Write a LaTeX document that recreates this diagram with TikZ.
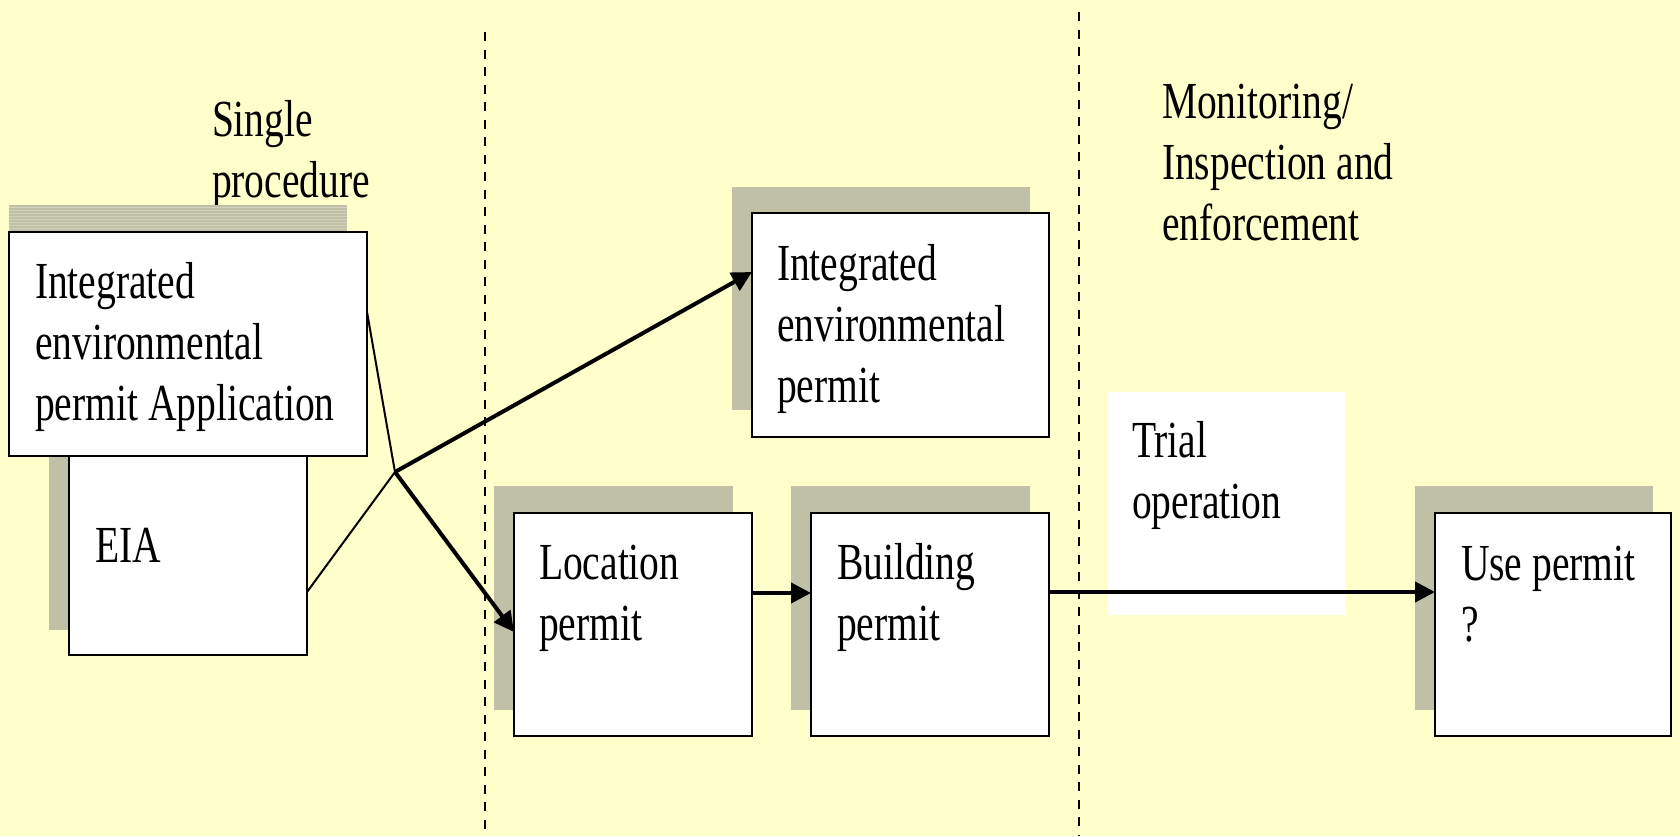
\documentclass[tikz,border=0pt]{standalone}
\usepackage{fontspec}
\setmainfont{Liberation Serif}[FakeStretch=0.76]
\usetikzlibrary{arrows.meta}
\definecolor{bgyellow}{HTML}{FFFFCC}
\definecolor{shadowgray}{HTML}{C0C0A6}
\definecolor{stripegray}{HTML}{D2D2BC}
\tikzset{
  boxnode/.style={draw=black, line width=2pt, fill=white, rectangle, inner sep=0pt, outer sep=0pt, anchor=north west},
  shadownode/.style={fill=shadowgray, draw=none, rectangle, inner sep=0pt, outer sep=0pt, anchor=north west},
  lbl/.style={anchor=base west, inner sep=0pt, outer sep=0pt, font=\fontsize{52}{61}\selectfont},
  divider/.style={line width=2.4pt, dash pattern=on 9pt off 8.5pt},
  thinline/.style={line width=2pt},
  thickarrow/.style={line width=4pt, -{Triangle[length=20pt,width=20pt]}},
}
\newcommand{\txtblock}[1]{\parbox[t]{420pt}{\raggedright #1}}
\begin{document}
\begin{tikzpicture}[x=1pt,y=-1pt]
\fill[bgyellow] (0,0) rectangle (1680,836);
\useasboundingbox (0,0) rectangle (1680,836);

% dividers
\coordinate (d1top) at (485,32);
\coordinate (d1bot) at (485,836);
\coordinate (d2top) at (1079,12);
\coordinate (d2bot) at (1079,836);
\draw[divider] (d1top) -- (d1bot);
\draw[divider] (d2top) -- (d2bot);

% headings
\node[lbl] (single) at (212,136) {\txtblock{Single\\procedure}};
\node[lbl] (monitor) at (1162,118) {\txtblock{Monitoring/\\Inspection and\\enforcement}};

% EIA
\node[shadownode, minimum width=238pt, minimum height=210pt] (eiash) at (49,420) {};
\node[boxnode, minimum width=238pt, minimum height=225pt] (eia) at (69,430) {};
\node[lbl] (eiatxt) at (95,562) {EIA};

% Application
\node[shadownode, minimum width=338pt, minimum height=225pt] (appsh) at (9,205) {};
\foreach \yy in {207,210,...,231} {\draw[stripegray, line width=0.8pt] (9,\yy) -- (347,\yy);}
\node[boxnode, minimum width=358pt, minimum height=224pt] (app) at (9,232) {};
\node[lbl] (apptxt) at (35,298) {\txtblock{Integrated\\environmental\\permit Application}};

% Integrated environmental permit
\node[shadownode, minimum width=298pt, minimum height=223pt] (iepsh) at (732,187) {};
\node[boxnode, minimum width=297pt, minimum height=224pt] (iep) at (752,213) {};
\node[lbl] (ieptxt) at (777,280) {\txtblock{Integrated\\environmental\\permit}};

% Location permit
\node[shadownode, minimum width=239pt, minimum height=224pt] (locsh) at (494,486) {};
\node[boxnode, minimum width=238pt, minimum height=223pt] (loc) at (514,513) {};
\node[lbl] (loctxt) at (539,579) {\txtblock{Location\\permit}};

% Building permit
\node[shadownode, minimum width=239pt, minimum height=224pt] (bldsh) at (791,486) {};
\node[boxnode, minimum width=238pt, minimum height=223pt] (bld) at (811,513) {};
\node[lbl] (bldtxt) at (837,579) {\txtblock{Building\\permit}};

% Use permit
\node[shadownode, minimum width=238pt, minimum height=224pt] (usesh) at (1415,486) {};
\node[boxnode, minimum width=236pt, minimum height=223pt] (use) at (1435,513) {};
\node[lbl] (usetxt) at (1461,580) {\txtblock{Use permit\\?}};

% Trial operation
\node[fill=white, draw=none, rectangle, inner sep=0pt, anchor=north west, minimum width=238pt, minimum height=223pt] (trial) at (1108,392) {};
\node[lbl] (trialtxt) at (1132,457) {\txtblock{Trial\\operation}};

% connectors
\coordinate (j) at (395,472);
\draw[thinline] ([yshift=-80pt]app.north east) -- (j);
\draw[thinline] ([yshift=63pt]eia.south east) -- (j);
\draw[thickarrow] (j) -- ([yshift=-59pt]iep.north west);
\draw[thickarrow] (j) -- ([yshift=-119pt]loc.north west);
\draw[thickarrow] ([yshift=-80pt]loc.north east) -- ([yshift=-80pt]bld.north west);
\draw[thickarrow] ([yshift=-79pt]bld.north east) -- ([yshift=-79pt]use.north west);
\end{tikzpicture}
\end{document}
